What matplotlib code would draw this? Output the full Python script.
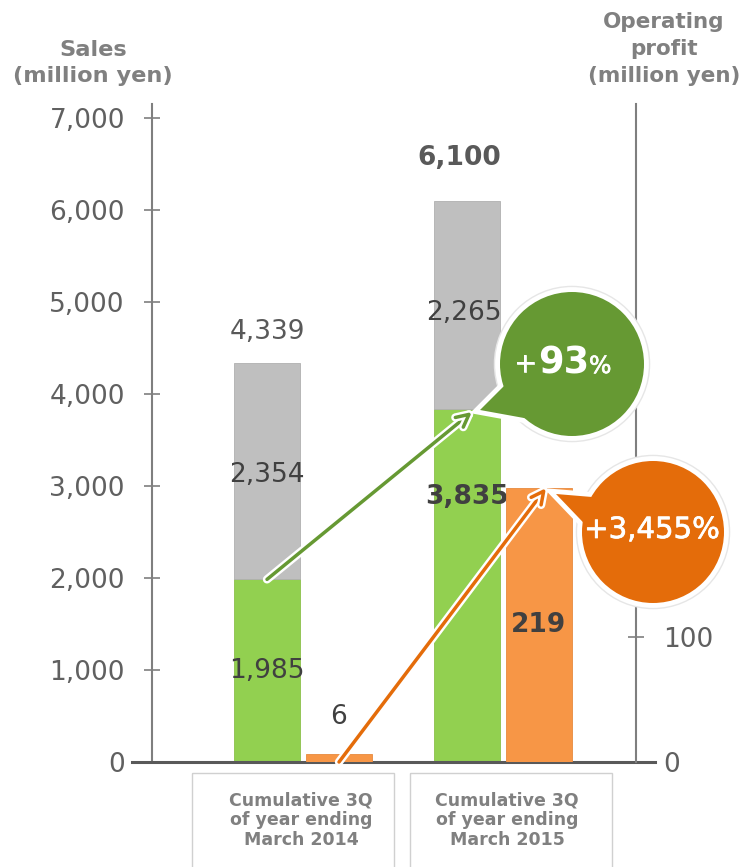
import matplotlib
matplotlib.use("Agg")
import matplotlib.pyplot as plt
from matplotlib.patches import Circle, Polygon, Rectangle
import matplotlib.patheffects as pe

# ── data ───────────────────────────────────────────────────────────────────────
periods       = ["Cumulative 3Q\nof year ending\nMarch 2014",
                 "Cumulative 3Q\nof year ending\nMarch 2015"]
sales_green   = [1985, 3835]
sales_gray    = [2354, 2265]
sales_total   = [4339, 6100]
op_profit     = [6, 219]
sales_ticks   = [0, 1000, 2000, 3000, 4000, 5000, 6000, 7000]
profit_ticks  = [0, 100]
growth_labels = ["+93", "+3,455"]

GREEN   = "#92d050"
GRAY    = "#bfbfbf"
ORANGE  = "#f79646"
DGREEN  = "#669933"
DORANGE = "#e46c0a"
AXIS    = "#7f7f7f"
TXT     = "#404040"
LBL     = "#808080"

W, H = 753, 867
fig = plt.figure(figsize=(W / 100, H / 100), dpi=100)
fig.patch.set_facecolor("white")

# axes frame in pixels: x 152..636, y 104..762
ax = fig.add_axes([152 / W, (H - 762) / H, 484 / W, 658 / H])
ax2 = ax.twinx()

x = [0, 1]
off, bw = 0.18, 0.33
xs = [i - off for i in x]
xp = [i + off for i in x]

ax.bar(xs, sales_green, bw, color=GREEN, edgecolor="#8cc04a", linewidth=0.6, zorder=2)
ax.bar(xs, sales_gray, bw, bottom=sales_green, color=GRAY, edgecolor="#b0b0b0",
       linewidth=0.6, zorder=2)
ax2.bar(xp, op_profit, bw, color=ORANGE, edgecolor="#e88a3e", linewidth=0.6, zorder=2)

ax.set_xlim(-0.755, 1.665)
ax.set_ylim(0, 7152)
ax2.set_ylim(0, 526)

ax.set_yticks(sales_ticks)
ax.set_yticklabels([f"{v:,}" for v in sales_ticks])
ax2.set_yticks(profit_ticks)
ax2.set_yticklabels([str(v) for v in profit_ticks])
ax.set_xticks([])

for a in (ax, ax2):
    for s in a.spines.values():
        s.set_visible(False)
ax.spines["left"].set_visible(True)
ax.spines["left"].set_color(AXIS)
ax.spines["left"].set_linewidth(1.5)
ax2.spines["right"].set_visible(True)
ax2.spines["right"].set_color(AXIS)
ax2.spines["right"].set_linewidth(1.5)

for a in (ax, ax2):
    a.tick_params(axis="y", direction="inout", length=11, width=1.2, color=AXIS,
                  labelsize=19, labelcolor="#606060", pad=14)
# the baseline covers the zero ticks
ax2.yaxis.get_major_ticks()[0].tick2line.set_visible(False)
ax.yaxis.get_major_ticks()[0].tick1line.set_visible(False)

# baseline
ax.plot([-0.855, 1.76], [0, 0], color="#595959", lw=2.2, clip_on=False, zorder=5)

# value labels
ax.text(xs[0], sales_green[0] / 2, f"{sales_green[0]:,}", ha="center", va="center",
        fontsize=19, color=TXT, zorder=4)
ax.text(xs[1], sales_green[1] * 0.75, f"{sales_green[1]:,}", ha="center", va="center",
        fontsize=19, color=TXT, fontweight="bold", zorder=4)
ax.text(xs[0], sales_green[0] + sales_gray[0] / 2 - 40, f"{sales_gray[0]:,}",
        ha="center", va="center", fontsize=19, color=TXT, zorder=4)
ax.text(xs[1] - 0.015, sales_green[1] + sales_gray[1] * 0.46, f"{sales_gray[1]:,}",
        ha="center", va="center", fontsize=19, color=TXT, zorder=4)
ax.text(xs[0], sales_total[0] + 340, f"{sales_total[0]:,}", ha="center", va="center",
        fontsize=19, color="#595959")
ax.text(xs[1] - 0.04, sales_total[1] + 465, f"{sales_total[1]:,}", ha="center",
        va="center", fontsize=19, color="#595959", fontweight="bold")
ax2.text(xp[0], op_profit[0] + 30, f"{op_profit[0]}", ha="center", va="center",
         fontsize=19, color=TXT)
ax2.text(xp[1], op_profit[1] * 0.5, f"{op_profit[1]}", ha="center", va="center",
         fontsize=19, color=TXT, fontweight="bold", zorder=4)

# arrows
halo = [pe.withStroke(linewidth=6, foreground="white")]
ax.annotate("", xy=(xs[1] + 0.025, sales_green[1] - 30), xytext=(xs[0], sales_green[0]),
            arrowprops=dict(arrowstyle="->,head_length=0.9,head_width=0.45", color=DGREEN,
                            lw=2.5, shrinkA=0, shrinkB=0, path_effects=halo),
            zorder=6)
ax2.annotate("", xy=(xp[1] + 0.035, op_profit[1]), xytext=(xp[0], 0),
             arrowprops=dict(arrowstyle="->,head_length=0.9,head_width=0.45", color=DORANGE,
                             lw=2.5, shrinkA=0, shrinkB=0, path_effects=halo),
             zorder=6)

# overlay in pixel space for callouts, titles and category boxes
ov = fig.add_axes([0, 0, 1, 1], zorder=10)
ov.set_xlim(0, W)
ov.set_ylim(H, 0)
ov.axis("off")
ov.patch.set_alpha(0)


def bubble(cx, cy, r, tail, color):
    c_bg = Circle((cx, cy), r, facecolor="white", edgecolor="white", lw=7)
    t_bg = Polygon(tail, closed=True, facecolor="white", edgecolor="white", lw=7)
    c_bg.set_path_effects([pe.withStroke(linewidth=9, foreground="#e6e6e6")])
    ov.add_patch(c_bg)
    ov.add_patch(t_bg)
    ov.add_patch(Polygon(tail, closed=True, facecolor=color, edgecolor="none"))
    ov.add_patch(Circle((cx, cy), r, facecolor=color, edgecolor="none"))


bubble(572, 364, 72, [(480, 410), (512, 378), (535, 420)], DGREEN)
bubble(653, 532, 71, [(556, 494), (592, 497), (600, 540)], DORANGE)

thick = [pe.withStroke(linewidth=0.5, foreground="white")]
ov.text(537, 364, growth_labels[0][0], ha="right", va="center", fontsize=20,
        color="white", path_effects=thick)
ov.text(538, 363, growth_labels[0][1:], ha="left", va="center", fontsize=26.5,
        color="white", fontweight="bold")
ov.text(589, 366, "%", ha="left", va="center", fontsize=17, color="white",
        path_effects=thick)
ov.text(652, 530, growth_labels[1] + "%", ha="center", va="center", fontsize=21,
        color="white", path_effects=thick)

# axis titles
ov.text(93, 63, "Sales\n(million yen)", ha="center", va="center", fontsize=16.2,
        color=LBL, fontweight="bold", linespacing=1.38)
ov.text(664, 49, "Operating\nprofit\n(million yen)", ha="center", va="center",
        fontsize=15.5, color=LBL, fontweight="bold", linespacing=1.45)

# category boxes
for (bx0, bx1), tx, lab in zip([(192, 394), (410, 612)], [301, 507], periods):
    ov.add_patch(Rectangle((bx0, 773), bx1 - bx0, 110, facecolor="none",
                           edgecolor="#d0d0d0", lw=1))
    ov.text(tx, 820, lab, ha="center", va="center", fontsize=12.5,
            color=LBL, fontweight="bold", linespacing=1.12)

fig.savefig("out.png", dpi=100, facecolor="white")
